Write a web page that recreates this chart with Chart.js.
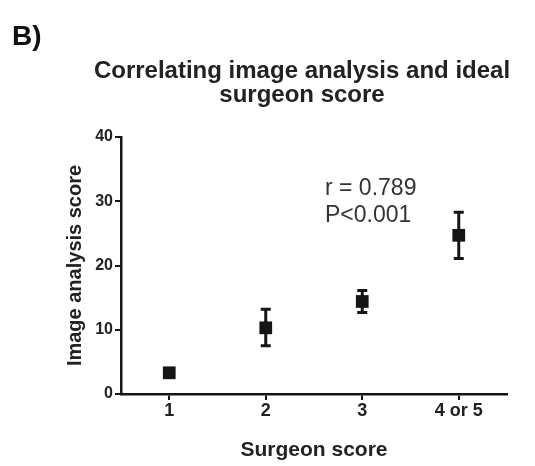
<!DOCTYPE html>
<html>
<head>
<meta charset="utf-8">
<title>Surgeon score</title>
<script src="https://cdn.jsdelivr.net/npm/chart.js@4.4.0/dist/chart.umd.min.js"></script>
<style>
  html, body { margin: 0; padding: 0; background: #fff; }
  #wrap { width: 535px; height: 466px; }
</style>
</head>
<body>
<div id="wrap"><canvas id="scoreChart" width="535" height="466"></canvas></div>
<script>
// group means with SEM whiskers
var surgeonScores = ['1', '2', '3', '4 or 5'];
var meanScores = [3.3, 10.3, 14.4, 24.7];
var lowerBars = [3.0, 7.5, 12.7, 21.1];
var upperBars = [3.6, 13.2, 16.1, 28.3];
var yTicks = [0, 10, 20, 30, 40];
var titleLines = ['Correlating image analysis and ideal', 'surgeon score'];
var statLines = ['r = 0.789', 'P<0.001'];

var FONT = '"Liberation Sans", Arial, sans-serif';
var INK = '#151515';

// whiskers go under the square markers
var errorBars = {
  id: 'errorBars',
  beforeDatasetsDraw: function (chart) {
    var ctx = chart.ctx;
    var x = chart.scales.x, y = chart.scales.y;
    ctx.save();
    ctx.strokeStyle = INK;
    ctx.lineWidth = 3;
    for (var i = 0; i < meanScores.length; i++) {
      var px = x.getPixelForValue(i);
      var lo = y.getPixelForValue(lowerBars[i]);
      var hi = y.getPixelForValue(upperBars[i]);
      ctx.beginPath();
      ctx.moveTo(px, lo); ctx.lineTo(px, hi);
      ctx.moveTo(px - 5, lo); ctx.lineTo(px + 5, lo);
      ctx.moveTo(px - 5, hi); ctx.lineTo(px + 5, hi);
      ctx.stroke();
    }
    ctx.restore();
  }
};

// panel letter, heading and the correlation note
var labels = {
  id: 'labels',
  afterDraw: function (chart) {
    var ctx = chart.ctx;
    ctx.save();
    ctx.fillStyle = '#111';
    ctx.textAlign = 'left';
    ctx.textBaseline = 'alphabetic';
    ctx.font = 'bold 28px ' + FONT;
    ctx.fillText('B)', 12, 45);

    ctx.fillStyle = '#222';
    ctx.textAlign = 'center';
    ctx.font = 'bold 24px ' + FONT;
    titleLines.forEach(function (t, i) {
      ctx.fillText(t, 302, 78 + i * 24);
    });

    ctx.fillStyle = '#333';
    ctx.textAlign = 'left';
    ctx.font = '23px ' + FONT;
    statLines.forEach(function (t, i) {
      ctx.fillText(t, 325, 195 + i * 27);
    });
    ctx.restore();
  }
};

var ctx = document.getElementById('scoreChart').getContext('2d');
var scoreChart = new Chart(ctx, {
  type: 'line',
  data: {
    labels: surgeonScores,
    datasets: [{
      data: meanScores,
      showLine: false,
      pointStyle: 'rect',
      pointRadius: 9,
      pointBackgroundColor: INK,
      pointBorderColor: INK,
      pointBorderWidth: 0
    }]
  },
  options: {
    responsive: false,
    animation: false,
    devicePixelRatio: 1,
    layout: { padding: { left: 60, top: 137, right: 28, bottom: 3 } },
    plugins: {
      legend: { display: false },
      tooltip: { enabled: false }
    },
    scales: {
      x: {
        type: 'category',
        offset: true,
        afterFit: function (scale) { scale.height = 69; },
        border: { color: INK, width: 2.5 },
        grid: { drawOnChartArea: false, offset: false, tickLength: 6, color: INK, lineWidth: 2 },
        ticks: { color: '#222', padding: 0, font: { family: FONT, size: 18, weight: 'bold' } },
        title: {
          display: true,
          text: 'Surgeon score',
          color: '#222',
          padding: { top: 4, bottom: 0 },
          font: { family: FONT, size: 21, weight: 'bold' }
        }
      },
      y: {
        min: 0,
        max: 40,
        afterFit: function (scale) { scale.width = 61; },
        afterBuildTicks: function (scale) {
          scale.ticks = yTicks.map(function (v) { return { value: v }; });
        },
        border: { color: INK, width: 2.5 },
        grid: { drawOnChartArea: false, tickLength: 6, color: INK, lineWidth: 2 },
        ticks: { color: '#222', padding: 2, font: { family: FONT, size: 16, weight: 'bold' } },
        title: {
          display: true,
          text: 'Image analysis score',
          color: '#222',
          padding: { top: 3, bottom: 0 },
          font: { family: FONT, size: 20, weight: 'bold' }
        }
      }
    }
  },
  plugins: [errorBars, labels]
});
</script>
</body>
</html>
